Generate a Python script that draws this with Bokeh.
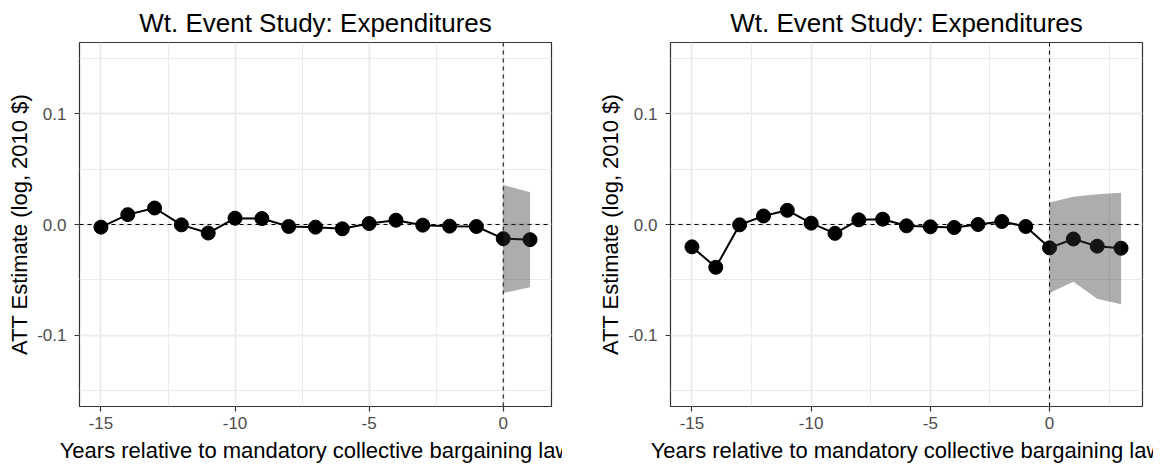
from bokeh.plotting import figure
from bokeh.layouts import row
from bokeh.models import (FixedTicker, CustomJSTickFormatter, Span, Spacer,
                          Range1d)
from bokeh.embed import file_html
from bokeh.resources import INLINE

TITLE = "Wt. Event Study: Expenditures"
X_LABEL = "Years relative to mandatory collective bargaining law"
Y_LABEL = "ATT Estimate (log, 2010 $)"

# Panel A: event-time estimates
years_a = [-15, -14, -13, -12, -11, -10, -9, -8, -7, -6, -5, -4, -3, -2, -1, 0, 1]
att_a = [-0.0024, 0.0089, 0.0149, -0.0003, -0.0077, 0.0057, 0.0054, -0.0018,
         -0.0024, -0.0039, 0.0009, 0.0039, -0.0006, -0.0015, -0.0018,
         -0.0128, -0.0137]
ci_years_a = [0, 1]
ci_lo_a = [-0.0619, -0.0568]
ci_hi_a = [0.0357, 0.0292]

# Panel B: event-time estimates
years_b = [-15, -14, -13, -12, -11, -10, -9, -8, -7, -6, -5, -4, -3, -2, -1,
           0, 1, 2, 3]
att_b = [-0.0202, -0.0387, -0.0003, 0.0077, 0.0128, 0.0012, -0.0080, 0.0042,
         0.0048, -0.0012, -0.0021, -0.0027, 0.0000, 0.0027, -0.0018,
         -0.0211, -0.0131, -0.0196, -0.0214]
ci_years_b = [0, 1, 2, 3]
ci_lo_b = [-0.0619, -0.0518, -0.0670, -0.0720]
ci_hi_b = [0.0199, 0.0250, 0.0274, 0.0286]

x_major = [-15, -10, -5, 0]
y_major = [-0.1, 0.0, 0.1]
y_minor = [-0.15, -0.05, 0.05, 0.15]

FONT = "Liberation Sans"


def panel(years, att, ci_years, ci_lo, ci_hi):
    span = max(years) - min(years)
    x0 = min(years) - 0.05 * span
    x1 = max(years) + 0.05 * span
    x_minor = [v for v in (-17.5, -12.5, -7.5, -2.5, 2.5, 7.5) if x0 < v < x1]

    p = figure(width=562, height=465, output_backend="svg",
               toolbar_location=None, title=TITLE,
               x_range=Range1d(x0, x1), y_range=Range1d(-0.1645, 0.1645),
               min_border_left=79, min_border_right=11,
               min_border_top=40, min_border_bottom=57)
    p.background_fill_color = "white"
    p.border_fill_color = "white"
    p.outline_line_color = "#333333"
    p.outline_line_width = 1.2

    p.title.align = "center"
    p.title.text_font = FONT
    p.title.text_font_size = "26px"
    p.title.text_font_style = "normal"
    p.title.text_color = "black"
    p.title.standoff = 10

    p.xaxis.ticker = FixedTicker(ticks=x_major, minor_ticks=x_minor)
    p.yaxis.ticker = FixedTicker(ticks=y_major, minor_ticks=y_minor)
    p.xaxis.formatter = CustomJSTickFormatter(code="return tick.toFixed(0);")
    p.yaxis.formatter = CustomJSTickFormatter(code="return tick.toFixed(1);")

    for ax in (p.xaxis, p.yaxis):
        ax.axis_line_color = None
        ax.major_tick_line_color = "#333333"
        ax.major_tick_line_width = 1.2
        ax.major_tick_out = 5
        ax.major_tick_in = 0
        ax.minor_tick_out = 0
        ax.minor_tick_in = 0
        ax.major_label_text_font = FONT
        ax.major_label_text_font_size = "17px"
        ax.major_label_text_color = "#4D4D4D"
        ax.axis_label_text_font = FONT
        ax.axis_label_text_font_size = "22px"
        ax.axis_label_text_font_style = "normal"
        ax.axis_label_text_color = "black"

    p.xaxis.axis_label = X_LABEL
    p.yaxis.axis_label = Y_LABEL
    p.xaxis.major_label_standoff = 5
    p.xaxis.axis_label_standoff = 6
    p.yaxis.major_label_standoff = 8
    p.yaxis.axis_label_standoff = 2

    for g in (p.xgrid, p.ygrid):
        g.grid_line_color = "#EBEBEB"
        g.grid_line_width = 2
        g.minor_grid_line_color = "#EBEBEB"
        g.minor_grid_line_width = 1

    p.add_layout(Span(location=0, dimension="width", line_color="black",
                      line_width=1, line_dash="4 4", level="underlay"))
    p.add_layout(Span(location=0, dimension="height", line_color="black",
                      line_width=1, line_dash="4 4", level="underlay"))

    p.line(years, att, line_color="black", line_width=2)
    p.scatter(years, att, size=14, fill_color="black", line_color="black")
    p.varea(x=ci_years, y1=ci_lo, y2=ci_hi, fill_color="#333333",
            fill_alpha=0.4)
    return p


left = panel(years_a, att_a, ci_years_a, ci_lo_a, ci_hi_a)
right = panel(years_b, att_b, ci_years_b, ci_lo_b, ci_hi_b)

layout = row(left, Spacer(width=29, height=465), right)
open("out.html", "w").write(file_html(layout, INLINE))
